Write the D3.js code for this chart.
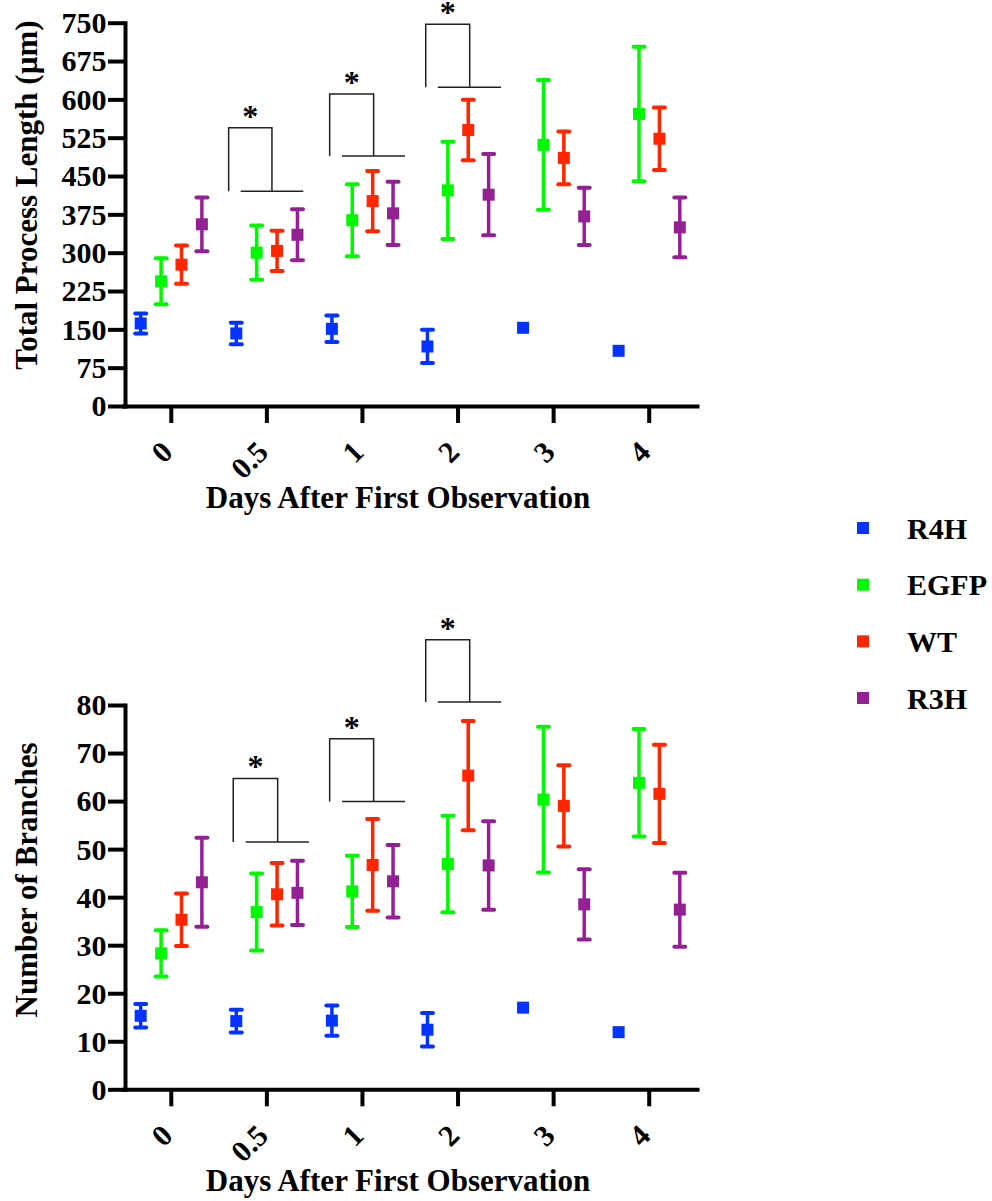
<!DOCTYPE html>
<html>
<head>
<meta charset="utf-8">
<script src="https://cdn.jsdelivr.net/npm/d3@7"></script>
<style>
  body { margin: 0; background: #fff; }
  svg text { font-family: "Liberation Serif", "Tinos", "Noto Serif", "Nimbus Roman", "Nimbus Roman No9 L", "FreeSerif", "Times New Roman", Times, "DejaVu Serif", Georgia, serif; font-weight: bold; fill: #000; }
</style>
</head>
<body>
<svg id="chart" width="992" height="1201"></svg>
<script>
const days = ["0", "0.5", "1", "2", "3", "4"];
const groups = ["R4H", "EGFP", "WT", "R3H"];
const groupColors = ["#0433FF", "#00F900", "#FF2600", "#942193"];

// Total process length (µm): mean and error per day
const lenR4H = [161.5, 142, 151, 116.5, 153, 108];
const lenR4HErr = [19.5, 21, 26, 32.5, null, null];
const lenEGFP = [244, 300, 363.5, 422, 511, 571.5];
const lenEGFPErr = [45, 53, 70.5, 95, 127, 131.5];
const lenWT = [276.5, 303.5, 401, 540, 485.5, 523];
const lenWTErr = [37.5, 39.5, 59, 59, 51.5, 61];
const lenR3H = [355.5, 335, 377, 413.5, 371, 349.5];
const lenR3HErr = [52.5, 50, 62, 79.5, 56, 58.5];
const lenTicks = [0, 75, 150, 225, 300, 375, 450, 525, 600, 675, 750];

// Number of branches: mean and error per day
const brR4H = [15.3, 14.2, 14.3, 12.4, 17.0, 11.9];
const brR4HErr = [2.45, 2.35, 3.15, 3.5, null, null];
const brEGFP = [28.3, 36.9, 41.2, 46.9, 60.3, 63.8];
const brEGFPErr = [4.8, 8.0, 7.4, 10.05, 15.15, 11.2];
const brWT = [35.3, 40.6, 46.7, 65.3, 59.0, 61.5];
const brWTErr = [5.45, 6.5, 9.55, 11.35, 8.45, 10.25];
const brR3H = [43.1, 40.9, 43.3, 46.6, 38.5, 37.4];
const brR3HErr = [9.25, 6.7, 7.55, 9.2, 7.3, 7.7];
const brTicks = [0, 10, 20, 30, 40, 50, 60, 70, 80];

// significance brackets: day, x offsets (fraction of band), top and base values
const lenBrackets = [
  { day: "0.5", left: -0.40, right: 0.053, from: -0.274, to: 0.381, top: 544.6, base: 420.2 },
  { day: "1", left: -0.343, right: 0.117, from: -0.214, to: 0.445, top: 610.6, base: 489.2 },
  { day: "2", left: -0.338, right: 0.122, from: -0.212, to: 0.45, top: 747, base: 623.7 },
];
const brBrackets = [
  { day: "0.5", left: -0.352, right: 0.113, from: -0.222, to: 0.44, top: 64.7, base: 51.5 },
  { day: "1", left: -0.343, right: 0.117, from: -0.214, to: 0.445, top: 73.0, base: 59.9 },
  { day: "2", left: -0.338, right: 0.122, from: -0.212, to: 0.45, top: 93.6, base: 80.6 },
];

const FONT = "'Liberation Serif', Tinos, 'Noto Serif', 'Nimbus Roman', 'FreeSerif', 'Times New Roman', Times, 'DejaVu Serif', Georgia, serif";
const svg = d3.select("#chart");

const x = d3.scaleBand().domain(days).range([123.5, 697]);
const bw = x.bandwidth();
const offset = d3.scalePoint().domain(groups).range([-0.32 * bw, 0.32 * bw]);
const center = (d) => x(d) + bw / 2;

function drawPanel(cfg) {
  const y = d3.scaleLinear().domain([0, cfg.yMax]).range([cfg.y0, cfg.y1]);
  const g = svg.append("g");

  // y axis
  const yAxis = g.append("g")
    .attr("transform", "translate(125,0)")
    .call(d3.axisLeft(y).tickValues(cfg.ticks).tickSize(17).tickSizeOuter(0).tickPadding(1.5));
  yAxis.attr("font-family", FONT).attr("font-size", 30).attr("font-weight", "bold");
  yAxis.select(".domain").attr("stroke-width", 4).attr("stroke-linecap", "square");
  yAxis.selectAll(".tick line").attr("stroke-width", 4);
  yAxis.selectAll(".tick text").attr("dy", "0.33em");

  // x axis
  const xAxis = g.append("g")
    .attr("transform", `translate(0,${cfg.y0})`)
    .call(d3.axisBottom(x).tickSize(17).tickSizeOuter(0));
  xAxis.attr("font-family", FONT).attr("font-size", 30).attr("font-weight", "bold");
  xAxis.select(".domain").attr("stroke-width", 4).attr("stroke-linecap", "square");
  xAxis.selectAll(".tick line").attr("stroke-width", 4);
  xAxis.selectAll(".tick text")
    .attr("y", 0).attr("dy", 0)
    .attr("text-anchor", "end")
    .attr("transform", "translate(3,48) rotate(-45)");

  // titles
  g.append("text")
    .attr("transform", `translate(37,${cfg.yTitleY}) rotate(-90)`)
    .attr("text-anchor", "middle")
    .attr("font-size", 31)
    .text(cfg.yTitle);
  g.append("text")
    .attr("x", 398).attr("y", cfg.y0 + 102)
    .attr("text-anchor", "middle")
    .attr("font-size", 31)
    .text("Days After First Observation");

  // error bars + markers per group
  groups.forEach((name, gi) => {
    const color = groupColors[gi];
    const means = cfg.means[gi];
    const errs = cfg.errs[gi];
    const pts = days.map((d, i) => ({ day: d, m: means[i], e: errs[i] }));
    const sg = g.append("g");
    const withErr = pts.filter((p) => p.e != null);
    const px = (p) => center(p.day) + offset(name);
    sg.selectAll("line.v").data(withErr).enter().append("line")
      .attr("x1", px).attr("x2", px)
      .attr("y1", (p) => y(p.m - p.e)).attr("y2", (p) => y(p.m + p.e))
      .attr("stroke", color).attr("stroke-width", 3.5);
    ["lo", "hi"].forEach((end) => {
      sg.selectAll("line.c" + end).data(withErr).enter().append("line")
        .attr("x1", (p) => px(p) - 5.5).attr("x2", (p) => px(p) + 5.5)
        .attr("y1", (p) => y(end === "lo" ? p.m - p.e : p.m + p.e))
        .attr("y2", (p) => y(end === "lo" ? p.m - p.e : p.m + p.e))
        .attr("stroke", color).attr("stroke-width", 4).attr("stroke-linecap", "round");
    });
    sg.selectAll("rect").data(pts).enter().append("rect")
      .attr("x", (p) => px(p) - 6).attr("y", (p) => y(p.m) - 6)
      .attr("width", 12).attr("height", 12)
      .attr("fill", color);
  });

  // significance brackets
  const bg = g.append("g").attr("stroke", "#222").attr("stroke-width", 1.5).attr("fill", "none");
  cfg.brackets.forEach((b) => {
    const c = center(b.day);
    bg.append("path")
      .attr("d", `M${c + b.left * bw},${y(b.base)}V${y(b.top)}H${c + b.right * bw}V${y(b.base)}`);
    bg.append("line")
      .attr("x1", c + b.from * bw).attr("x2", c + b.to * bw)
      .attr("y1", y(b.base)).attr("y2", y(b.base));
    g.append("text")
      .attr("x", c + ((b.left + b.right) / 2) * bw)
      .attr("y", y(b.top) - 1)
      .attr("text-anchor", "middle")
      .attr("font-size", 32)
      .text("*");
  });
}

drawPanel({
  yMax: 750, y0: 406, y1: 22.7, ticks: lenTicks,
  means: [lenR4H, lenEGFP, lenWT, lenR3H],
  errs: [lenR4HErr, lenEGFPErr, lenWTErr, lenR3HErr],
  brackets: lenBrackets,
  yTitle: "Total Process Length (µm)", yTitleY: 195,
});

drawPanel({
  yMax: 80, y0: 1089.3, y1: 705, ticks: brTicks,
  means: [brR4H, brEGFP, brWT, brR3H],
  errs: [brR4HErr, brEGFPErr, brWTErr, brR3HErr],
  brackets: brBrackets,
  yTitle: "Number of Branches", yTitleY: 880,
});

// legend
const legend = svg.append("g");
const ly = d3.scalePoint().domain(groups).range([528, 698]);
legend.selectAll("rect").data(groups).enter().append("rect")
  .attr("x", 857).attr("y", (d) => ly(d) - 6)
  .attr("width", 12).attr("height", 12)
  .attr("fill", (d, i) => groupColors[i]);
legend.selectAll("text").data(groups).enter().append("text")
  .attr("x", 907).attr("y", (d) => ly(d) + 10.5)
  .attr("font-size", 30)
  .text((d) => d);
</script>
</body>
</html>
